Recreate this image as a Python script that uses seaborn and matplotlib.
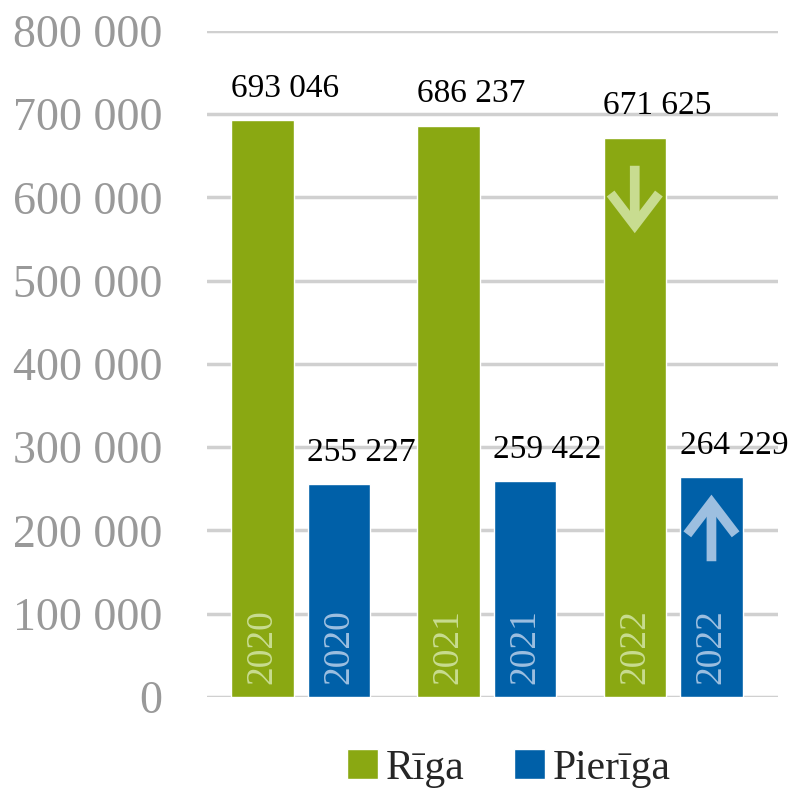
import pandas as pd
import seaborn as sns
import matplotlib.pyplot as plt

years = ["2020", "2021", "2022"]
riga = [693046, 686237, 671625]
pieriga = [255227, 259422, 264229]
regions = ["Rīga", "Pierīga"]
yticks = [0, 100000, 200000, 300000, 400000, 500000, 600000, 700000, 800000]

colors = {"Rīga": "#8aa812", "Pierīga": "#0060a8"}
light = {"Rīga": "#c8dc90", "Pierīga": "#9dbfe0"}

df = pd.DataFrame({
    "year": years * 2,
    "region": [regions[0]] * 3 + [regions[1]] * 3,
    "value": riga + pieriga,
})

sns.set_theme(style="white")
plt.rcParams["font.family"] = ["Liberation Serif", "DejaVu Serif"]

fig = plt.figure(figsize=(7.95, 7.92), dpi=100)
ax = fig.add_axes([0.26, 0.12, 0.719, 0.841])

sns.barplot(data=df, x="year", y="value", hue="region", palette=colors,
            width=0.82, gap=0.18, saturation=1, ax=ax, legend=True)

ax.set_ylim(0, 800000)
ax.set_xlim(-0.505, 2.565)
ax.set_yticks(yticks)
ax.set_yticklabels([f"{v:,}".replace(",", " ") for v in yticks],
                   fontsize=33, color="#999999")
ax.tick_params(axis="y", length=0, pad=32)
ax.set_xticks([])
ax.set_xlabel("")
ax.set_ylabel("")
ax.grid(axis="y", color="#d0d0d0", linewidth=2.5)
ax.set_axisbelow(True)
for s in ax.spines.values():
    s.set_visible(False)

off = 0.206
for i, yr in enumerate(years):
    for reg, vals, sign in [("Rīga", riga, -1), ("Pierīga", pieriga, 1)]:
        xc = i + sign * off
        ax.text(xc + 0.12, vals[i] + 38000, f"{vals[i]:,}".replace(",", " "),
                ha="center", va="center", fontsize=24, color="black")
        ax.text(xc, 16000, yr, rotation=90, ha="center", va="bottom",
                fontsize=27, color=light[reg])

# trend arrows on 2022 bars
arrow = "->,head_length=1.9,head_width=1.45"
ax.annotate("", xy=(2 - off, 557000), xytext=(2 - off, 638000),
            arrowprops=dict(arrowstyle=arrow, color=light["Rīga"], lw=7,
                            mutation_scale=12, shrinkA=0, shrinkB=0,
                            joinstyle="miter", capstyle="butt"))
ax.annotate("", xy=(2 + off, 243000), xytext=(2 + off, 163000),
            arrowprops=dict(arrowstyle=arrow, color=light["Pierīga"], lw=7,
                            mutation_scale=12, shrinkA=0, shrinkB=0,
                            joinstyle="miter", capstyle="butt"))

handles, labels = ax.get_legend_handles_labels()
ax.legend_.remove()
fig.legend(handles, labels, loc="center", bbox_to_anchor=(0.64, 0.03),
           ncol=2, frameon=False, fontsize=30, handlelength=0.74,
           handleheight=0.74, handletextpad=0.19, columnspacing=1.2)

fig.savefig("out.png", dpi=100)
